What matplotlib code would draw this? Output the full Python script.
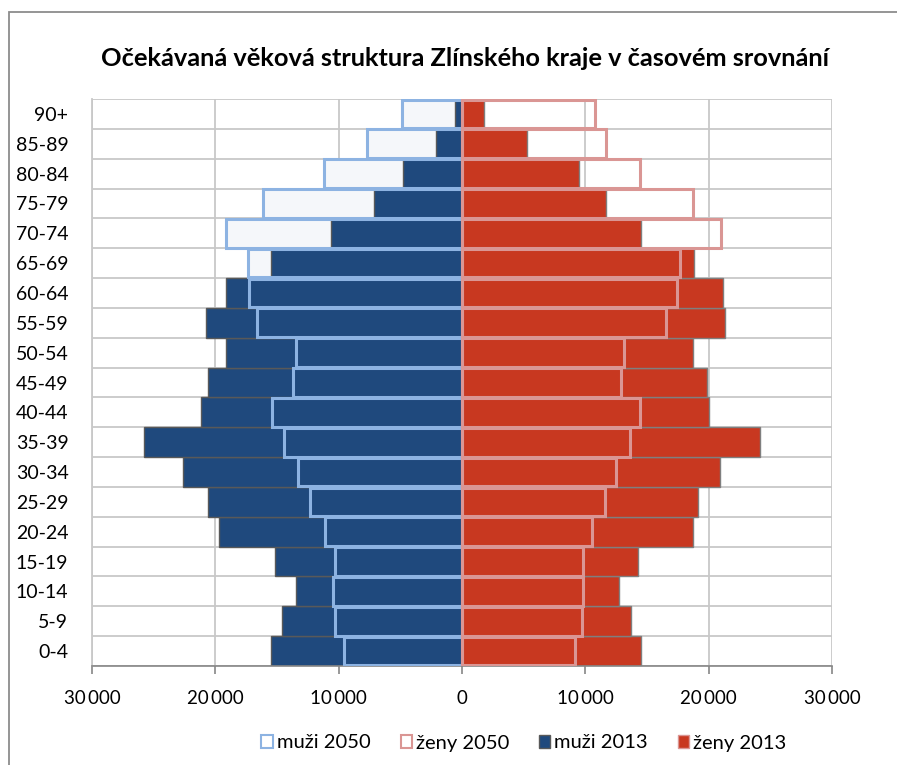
import matplotlib
matplotlib.use('Agg')
import matplotlib.pyplot as plt
from matplotlib.patches import Patch, Rectangle
import numpy as np

plt.rcParams['font.family'] = ['Lato', 'DejaVu Sans']

# age groups, bottom to top
vek = ['0-4', '5-9', '10-14', '15-19', '20-24', '25-29', '30-34', '35-39',
       '40-44', '45-49', '50-54', '55-59', '60-64', '65-69', '70-74',
       '75-79', '80-84', '85-89', '90+']

muzi_2013 = [15500, 14600, 13500, 15200, 19700, 20600, 22600, 25800, 21200,
             20600, 19100, 20750, 19100, 15500, 10600, 7100, 4750, 2100, 550]
zeny_2013 = [14500, 13700, 12700, 14300, 18700, 19100, 20900, 24200, 20000,
             19900, 18700, 21300, 21200, 18800, 14500, 11700, 9450, 5300, 1800]
muzi_2050 = [9600, 10300, 10500, 10300, 11100, 12300, 13300, 14400, 15400,
             13700, 13500, 16600, 17300, 17350, 19100, 16100, 11200, 7700, 4900]
zeny_2050 = [9200, 9700, 9850, 9800, 10500, 11600, 12500, 13600, 14400,
             12900, 13150, 16500, 17400, 17700, 21000, 18700, 14400, 11700, 10800]

xticks = [-30000, -20000, -10000, 0, 10000, 20000, 30000]
xlabels = ['30\u2009000', '20\u2009000', '10\u2009000', '0',
           '10\u2009000', '20\u2009000', '30\u2009000']

c_m13 = '#1F497D'
c_z13 = '#C83820'
c_m50 = '#8DB3E2'
c_z50 = '#DA9694'
grid_c = '#C8C8C8'

fig = plt.figure(figsize=(8.97, 7.65), dpi=100)
ax = fig.add_axes([92/897, 1 - 666/765, 740/897, 567/765])

y = np.arange(len(vek))
m13 = -np.array(muzi_2013)
m50 = -np.array(muzi_2050)

# 2050 men fill sits behind everything
ax.barh(y, m50, height=1.0, color='#F5F7FA', edgecolor='none', zorder=1)
ax.barh(y, m13, height=1.0, color=c_m13, edgecolor='#595959', linewidth=1.0, zorder=2)
ax.barh(y, zeny_2013, height=1.0, color=c_z13, edgecolor='#7F7F7F', linewidth=1.0, zorder=2)
# 2050 outlines on top
ax.barh(y, m50, height=0.96, facecolor='none', edgecolor=c_m50, linewidth=2.2, zorder=3)
ax.barh(y, zeny_2050, height=0.96, facecolor='none', edgecolor=c_z50, linewidth=2.2, zorder=3)

ax.set_xlim(-30000, 30000)
ax.set_ylim(-0.5, len(vek) - 0.5)

# gridlines
for b in np.arange(-0.5, len(vek), 1.0):
    ax.axhline(b, color=grid_c, linewidth=1.3, zorder=0)
for xv in xticks:
    ax.axvline(xv, color=grid_c, linewidth=1.3, zorder=0)

ax.set_xticks(xticks)
ax.set_xticklabels(xlabels, fontsize=13.5)
ax.set_yticks(y)
ax.set_yticklabels(vek, fontsize=14)
ax.tick_params(axis='x', direction='out', length=6, width=1.2, color='#868686', pad=11)
ax.tick_params(axis='y', length=0, pad=17)

for s in ['top', 'right']:
    ax.spines[s].set_visible(False)
ax.spines['left'].set_color(grid_c)
ax.spines['left'].set_linewidth(1.3)
ax.spines['bottom'].set_color('#868686')
ax.spines['bottom'].set_linewidth(1.2)

fig.text(465/897, 1 - 58/765, 'Očekávaná věková struktura Zlínského kraje v časovém srovnání',
         ha='center', va='center', fontsize=18.3, fontweight='bold')

# chart area border
fig.patches.append(Rectangle((9/897, -0.2), 1.5, 1 - 11.5/765 + 0.2,
                             transform=fig.transFigure, fill=False,
                             edgecolor='#8C8C8C', linewidth=1.3))

handles = [Patch(facecolor='white', edgecolor=c_m50, linewidth=1.5),
           Patch(facecolor='white', edgecolor=c_z50, linewidth=1.5),
           Patch(facecolor=c_m13, edgecolor='#595959', linewidth=1.0),
           Patch(facecolor=c_z13, edgecolor=c_z50, linewidth=1.0)]
fig.legend(handles, ['muži 2050', 'ženy 2050', 'muži 2013', 'ženy 2013'],
           loc='center', bbox_to_anchor=(524/897, 1 - 743/765), ncol=4,
           frameon=False, fontsize=14.5, handlelength=0.55, handleheight=0.65,
           handletextpad=0.2, columnspacing=1.5)

fig.savefig('out.png', dpi=100)
